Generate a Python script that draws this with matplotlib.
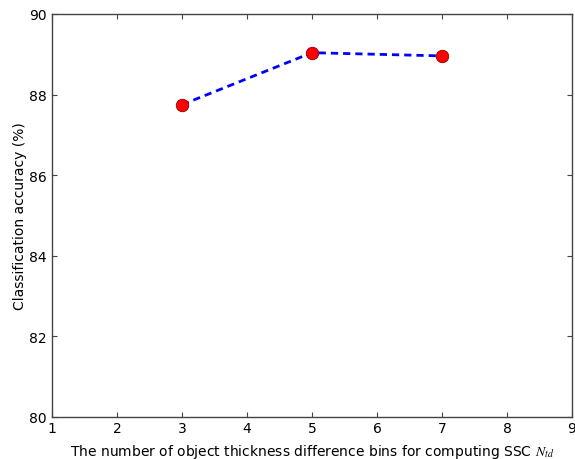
import matplotlib
matplotlib.use("Agg")
import matplotlib.pyplot as plt

bins = [3, 5, 7]
accuracy = [87.75, 89.04, 88.96]
xticks = [1, 2, 3, 4, 5, 6, 7, 8, 9]
yticks = [80, 82, 84, 86, 88, 90]

plt.rcParams['mathtext.fontset'] = 'stix'
fig = plt.figure(figsize=(5.75, 4.6), dpi=100)
ax = fig.add_axes([52/575, 1-418/460, 520/575, 403/460])
ax.plot(bins, accuracy, linestyle='--', color='blue', linewidth=2,
        marker='o', markersize=9, markerfacecolor='red', markeredgecolor='#8b0000',
        markeredgewidth=0.6, dashes=(2.6, 1.8))
ax.set_xlim(1, 9)
ax.set_ylim(80, 90)
ax.set_xticks(xticks)
ax.set_yticks(yticks)
for s in ax.spines.values():
    s.set_color('#444444')
    s.set_linewidth(1.0)
ax.tick_params(direction='in', top=True, right=True, labelsize=10, length=3.5,
               width=0.8, color='#444444')
ax.tick_params(axis='x', pad=3)
ax.tick_params(axis='y', pad=4)
ax.set_xlabel(r'The number of object thickness difference bins for computing SSC $N_{td}$',
              fontsize=10, labelpad=5)
ax.set_ylabel('Classification accuracy (%)', fontsize=10, labelpad=1.5)
fig.savefig('out.png', dpi=100)
